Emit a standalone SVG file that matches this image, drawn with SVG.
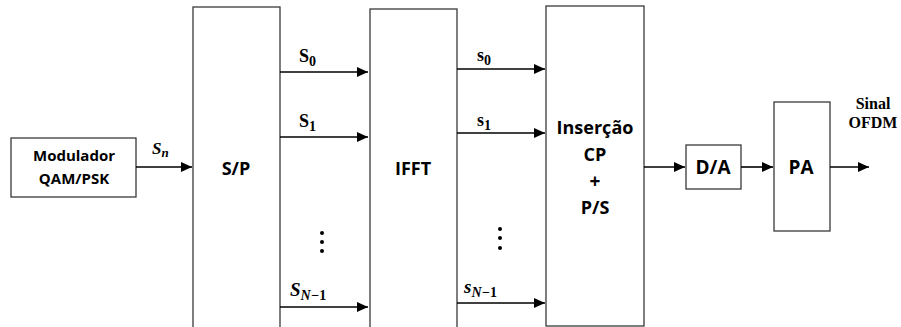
<svg xmlns="http://www.w3.org/2000/svg" width="901" height="327" viewBox="0 0 901 327">
  <style>
    .box { fill: #ffffff; stroke: #3a3a3a; stroke-width: 1.3; }
    .wire { stroke: #000000; stroke-width: 1.6; fill: none; marker-end: url(#head); }
    .lbl { font-family: "Open Sans", "Liberation Sans", sans-serif; font-weight: bold; fill: #000000; text-anchor: middle; }
    .sym { font-family: "Liberation Serif", "DejaVu Serif", serif; font-weight: bold; fill: #000000; }
    .dot { fill: #000000; }
  </style>
  <defs>
    <marker id="head" markerWidth="12" markerHeight="10" refX="11" refY="5" orient="auto" markerUnits="userSpaceOnUse">
      <path d="M0,0 L11,5 L0,10 Z" fill="#000000"/>
    </marker>
  </defs>

  <g id="modulador">
    <rect class="box" x="11" y="138" width="125" height="59"/>
    <text class="lbl" x="74" y="161" font-size="15">Modulador</text>
    <text class="lbl" x="74" y="184" font-size="15">QAM/PSK</text>
  </g>

  <g id="sp">
    <rect class="box" x="193" y="7" width="87" height="330"/>
    <text class="lbl" x="236" y="175" font-size="18">S/P</text>
    <circle class="dot" cx="322" cy="233" r="2"/>
    <circle class="dot" cx="322" cy="242" r="2"/>
    <circle class="dot" cx="322" cy="251" r="2"/>
  </g>

  <g id="ifft">
    <rect class="box" x="370" y="9" width="87" height="330"/>
    <text class="lbl" x="413" y="175" font-size="18">IFFT</text>
    <circle class="dot" cx="500" cy="229" r="2"/>
    <circle class="dot" cx="500" cy="238" r="2"/>
    <circle class="dot" cx="500" cy="248" r="2"/>
  </g>

  <g id="insercao">
    <rect class="box" x="546" y="6" width="98" height="320"/>
    <text class="lbl" x="595" y="134" font-size="18">Inserção</text>
    <text class="lbl" x="595" y="161" font-size="18">CP</text>
    <text class="lbl" x="595" y="188" font-size="19">+</text>
    <text class="lbl" x="595" y="214" font-size="18">P/S</text>
  </g>

  <g id="da">
    <rect class="box" x="686" y="145" width="55" height="44"/>
    <text class="lbl" x="713" y="174" font-size="19">D/A</text>
  </g>

  <g id="pa">
    <rect class="box" x="774" y="102" width="56" height="129"/>
    <text class="lbl" x="801" y="174" font-size="19">PA</text>
  </g>

  <g id="connectors">
    <path class="wire" d="M136,167 H192"/>
    <path class="wire" d="M280,72 H368"/>
    <path class="wire" d="M280,137 H368"/>
    <path class="wire" d="M280,307 H368"/>
    <path class="wire" d="M457,69 H545"/>
    <path class="wire" d="M457,133 H545"/>
    <path class="wire" d="M457,303 H545"/>
    <path class="wire" d="M644,167 H685"/>
    <path class="wire" d="M741,167 H773"/>
    <path class="wire" d="M830,167 H869"/>
  </g>

  <g id="labels">
    <text class="sym" x="152" y="154" font-size="17" font-style="italic">S<tspan font-size="13" dy="3">n</tspan></text>
    <text class="sym" x="299" y="62" font-size="18">S<tspan font-size="14" dy="4">0</tspan></text>
    <text class="sym" x="299" y="127" font-size="18">S<tspan font-size="14" dy="4">1</tspan></text>
    <text class="sym" x="290" y="296" font-size="19" font-style="italic">S<tspan font-size="14" dy="4">N−<tspan font-style="normal">1</tspan></tspan></text>
    <text class="sym" x="477" y="61" font-size="18">s<tspan font-size="14" dy="4">0</tspan></text>
    <text class="sym" x="477" y="126" font-size="18">s<tspan font-size="14" dy="4">1</tspan></text>
    <text class="sym" x="464" y="293" font-size="19" font-style="italic">s<tspan font-size="14" dy="4">N−<tspan font-style="normal">1</tspan></tspan></text>
    <text class="sym" x="873" y="109" font-size="16" text-anchor="middle">Sinal</text>
    <text class="sym" x="873" y="128" font-size="16" text-anchor="middle">OFDM</text>
  </g>
</svg>
